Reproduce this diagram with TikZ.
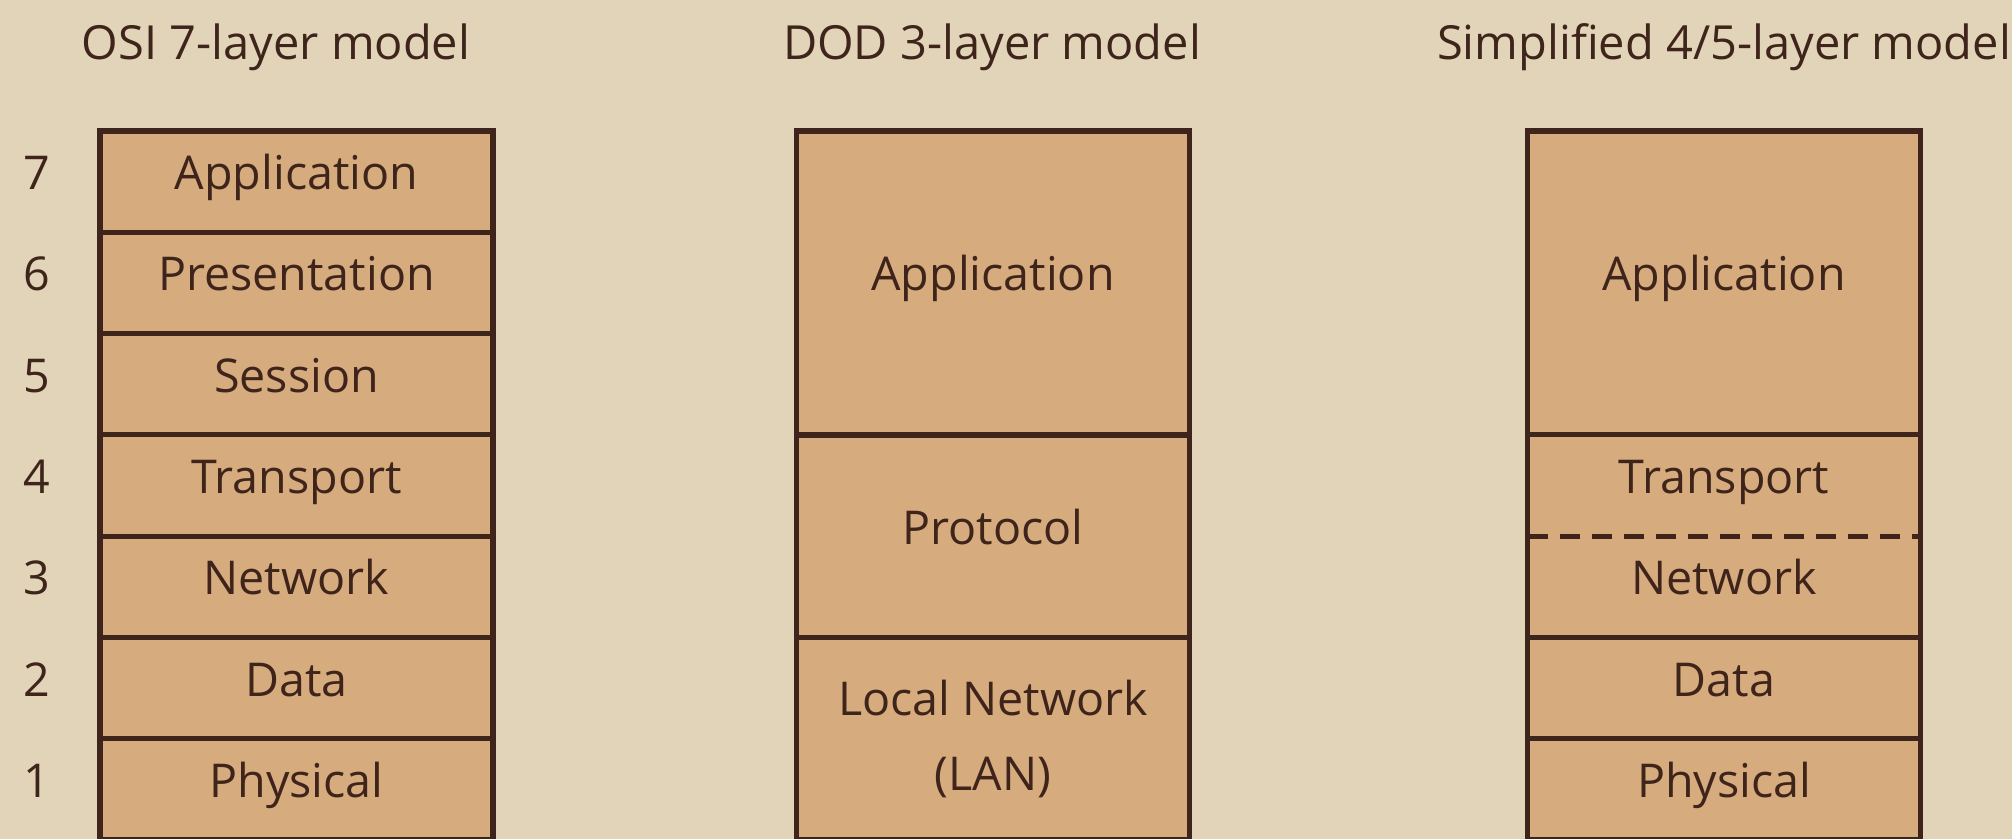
\documentclass[tikz,border=0pt]{standalone}
\usepackage{fontspec}
\setmainfont{Open Sans}
\definecolor{parch}{RGB}{226,212,184}
\definecolor{layerfill}{RGB}{214,171,126}
\definecolor{ink}{RGB}{62,36,26}
\begin{document}
\begin{tikzpicture}[x=0.5pt,y=-0.5pt,
  txt/.style={text=ink, font=\fontsize{23.3}{27}\selectfont, inner sep=0pt, outer sep=0pt},
  layer/.style={txt, draw=ink, fill=layerfill, line width=2.6pt,
    minimum width=196.5pt, minimum height=50.65pt, text height=12pt, text depth=4pt},
  tall/.style={layer, minimum height=151.94pt},
  double/.style={layer, minimum height=101.3pt},
  plain/.style={layer, draw=none},
  num/.style={txt, text height=12pt, text depth=4pt},
  title/.style={txt, anchor=base, font=\fontsize{23.5}{27}\selectfont},
  sep/.style={draw=ink, line width=2.6pt},
  dashsep/.style={sep, dash pattern=on 10pt off 6pt}
]
\fill[parch] (0,0) rectangle (2012,839);
\useasboundingbox (0,0) rectangle (2012,839);

% titles
\node[title] (t1) at (276,60) {OSI 7-layer model};
\node[title] (t2) at (992,60) {DOD 3-layer model};
\node[title] (t3) at (1724,60) {Simplified 4/5-layer model};

% OSI stack
\node[layer] (o7) at (296.5,181.6) {Application};
\node[layer] (o6) at (296.5,282.9) {Presentation};
\node[layer] (o5) at (296.5,384.2) {Session};
\node[layer] (o4) at (296.5,485.5) {Transport};
\node[layer] (o3) at (296.5,586.8) {Network};
\node[layer] (o2) at (296.5,688.1) {Data};
\node[layer] (o1) at (296.5,789.4) {Physical};

\node[num] (n7) at (37,181.6) {7};
\node[num] (n6) at (37,282.9) {6};
\node[num] (n5) at (37,384.2) {5};
\node[num] (n4) at (37,485.5) {4};
\node[num] (n3) at (37,586.8) {3};
\node[num] (n2) at (37,688.1) {2};
\node[num] (n1) at (37,789.4) {1};

% DOD stack
\node[tall] (dapp) at (993,282.9) {Application};
\node[double] (dprot) at (993,536.2) {Protocol};
\node[layer, minimum height=101.3pt, text height=, text depth=, align=center,
      execute at begin node=\setlength{\baselineskip}{37.5pt}] (dlan) at (993,738.7) {Local Network\\(LAN)};

% Simplified stack
\node[tall] (sapp) at (1724,282.9) {Application};
\node[plain, fill=layerfill] (stra) at (1724,485.5) {Transport};
\node[plain, fill=layerfill] (snet) at (1724,586.8) {Network};
\draw[sep] (stra.north west) rectangle (snet.south east);
\draw[dashsep] (stra.south west) -- (stra.south east);
\node[layer] (sdat) at (1724,688.1) {Data};
\node[layer] (sphy) at (1724,789.4) {Physical};
\end{tikzpicture}
\end{document}
